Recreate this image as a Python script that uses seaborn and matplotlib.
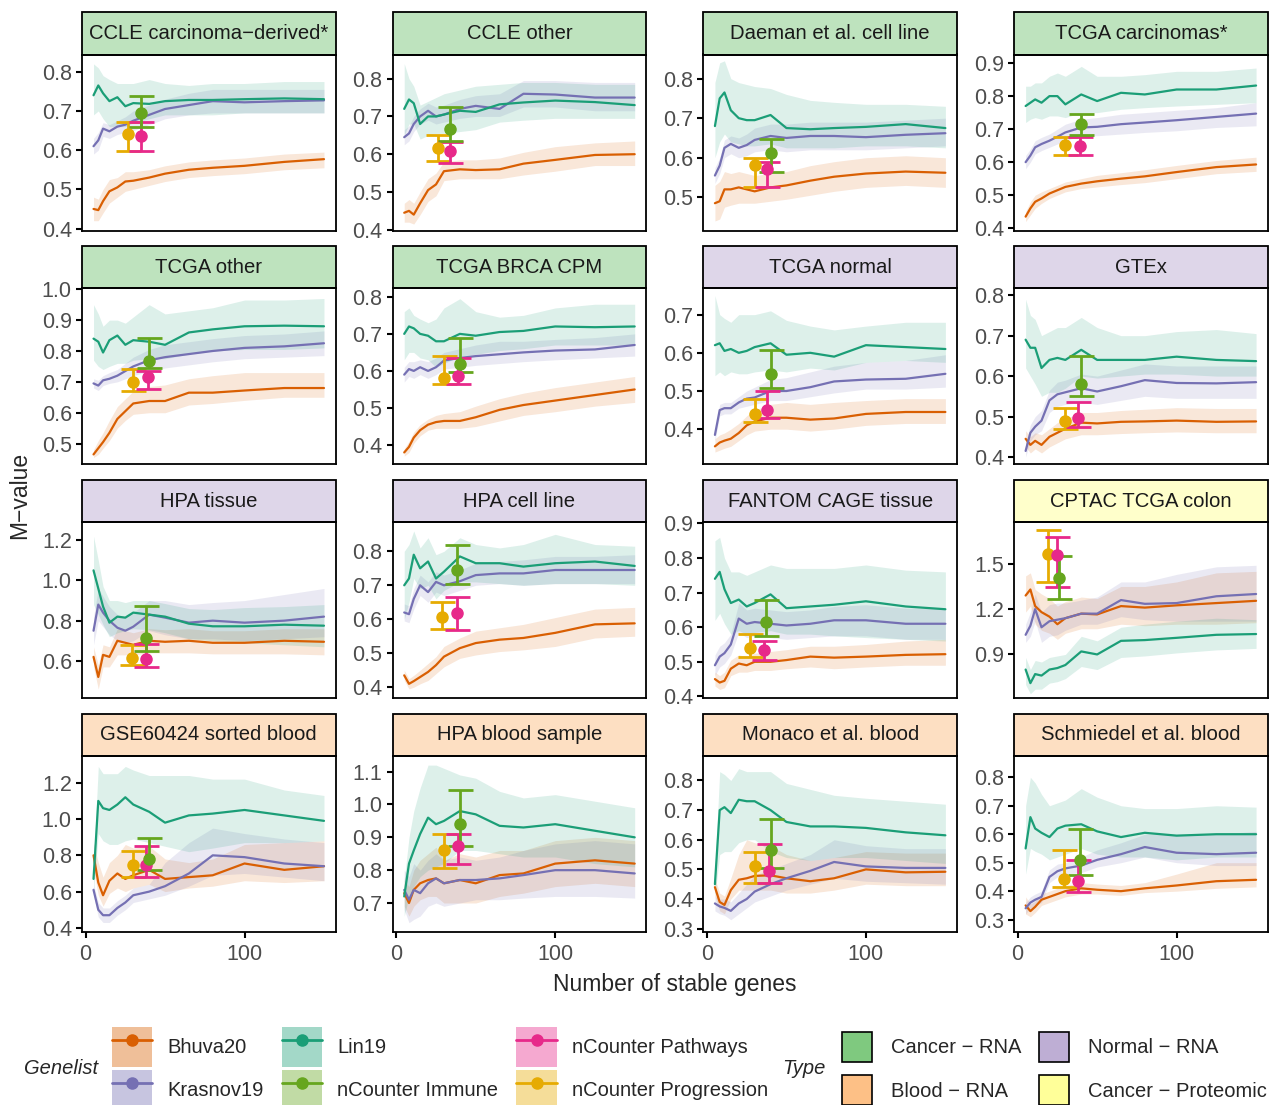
import numpy as np
import pandas as pd
import matplotlib
matplotlib.use("Agg")
import matplotlib.pyplot as plt
import seaborn as sns
from matplotlib.patches import Patch, Rectangle
from matplotlib.lines import Line2D
from matplotlib.legend_handler import HandlerTuple
from matplotlib.ticker import MultipleLocator, FormatStrFormatter

# ---- data ----
panels = ["CCLE carcinoma\u2212derived*", "CCLE other", "Daeman et al. cell line", "TCGA carcinomas*",
          "TCGA other", "TCGA BRCA CPM", "TCGA normal", "GTEx",
          "HPA tissue", "HPA cell line", "FANTOM CAGE tissue", "CPTAC TCGA colon",
          "GSE60424 sorted blood", "HPA blood sample", "Monaco et al. blood", "Schmiedel et al. blood"]
panel_type = ["Cancer \u2212 RNA"] * 6 + ["Normal \u2212 RNA"] * 5 + ["Cancer \u2212 Proteomic"] + ["Blood \u2212 RNA"] * 4

genes = [5, 8, 11, 15, 20, 25, 30, 40, 50, 65, 80, 100, 125, 150]

# Bhuva20 (one row per panel, same order as `panels`)
bhuva_mid = [
    [0.45, 0.447, 0.47, 0.495, 0.505, 0.52, 0.522, 0.53, 0.54, 0.55, 0.555, 0.56, 0.57, 0.577],
    [0.445, 0.45, 0.44, 0.47, 0.505, 0.52, 0.555, 0.56, 0.558, 0.56, 0.575, 0.585, 0.598, 0.60],
    [0.485, 0.49, 0.52, 0.52, 0.525, 0.52, 0.515, 0.525, 0.53, 0.542, 0.552, 0.56, 0.565, 0.562],
    [0.435, 0.46, 0.48, 0.49, 0.505, 0.515, 0.525, 0.535, 0.542, 0.55, 0.557, 0.57, 0.585, 0.593],
    [0.465, 0.485, 0.505, 0.535, 0.58, 0.605, 0.63, 0.638, 0.638, 0.665, 0.665, 0.672, 0.68, 0.68],
    [0.38, 0.395, 0.42, 0.44, 0.455, 0.462, 0.465, 0.465, 0.475, 0.495, 0.508, 0.52, 0.535, 0.55],
    [0.355, 0.365, 0.37, 0.375, 0.39, 0.41, 0.42, 0.43, 0.43, 0.425, 0.428, 0.44, 0.445, 0.445],
    [0.445, 0.43, 0.44, 0.43, 0.45, 0.46, 0.47, 0.485, 0.483, 0.487, 0.488, 0.49, 0.487, 0.488],
    [0.62, 0.52, 0.63, 0.62, 0.70, 0.69, 0.68, 0.70, 0.695, 0.70, 0.69, 0.69, 0.70, 0.695],
    [0.435, 0.41, 0.418, 0.43, 0.445, 0.465, 0.49, 0.515, 0.53, 0.54, 0.545, 0.56, 0.585, 0.588],
    [0.45, 0.44, 0.445, 0.48, 0.495, 0.49, 0.50, 0.50, 0.505, 0.515, 0.512, 0.515, 0.52, 0.522],
    [1.29, 1.33, 1.22, 1.18, 1.15, 1.10, 1.14, 1.17, 1.165, 1.22, 1.21, 1.225, 1.24, 1.255],
    [0.80, 0.65, 0.58, 0.66, 0.70, 0.67, 0.69, 0.72, 0.67, 0.68, 0.69, 0.755, 0.72, 0.74],
    [0.73, 0.70, 0.74, 0.76, 0.77, 0.775, 0.76, 0.77, 0.76, 0.785, 0.79, 0.82, 0.83, 0.82],
    [0.44, 0.39, 0.38, 0.43, 0.465, 0.47, 0.478, 0.48, 0.47, 0.46, 0.47, 0.50, 0.49, 0.492],
    [0.35, 0.33, 0.345, 0.37, 0.38, 0.39, 0.40, 0.41, 0.405, 0.40, 0.41, 0.42, 0.435, 0.44],
]
bhuva_lo = [
    [0.42, 0.42, 0.44, 0.465, 0.48, 0.495, 0.50, 0.51, 0.52, 0.53, 0.535, 0.54, 0.55, 0.555],
    [0.42, 0.42, 0.415, 0.44, 0.475, 0.49, 0.53, 0.535, 0.535, 0.535, 0.545, 0.555, 0.57, 0.57],
    [0.44, 0.445, 0.475, 0.48, 0.485, 0.485, 0.485, 0.49, 0.495, 0.505, 0.515, 0.525, 0.53, 0.525],
    [0.42, 0.44, 0.46, 0.475, 0.49, 0.50, 0.51, 0.52, 0.525, 0.532, 0.538, 0.55, 0.565, 0.572],
    [0.455, 0.465, 0.485, 0.51, 0.55, 0.575, 0.595, 0.60, 0.60, 0.625, 0.63, 0.64, 0.65, 0.65],
    [0.37, 0.38, 0.405, 0.425, 0.44, 0.445, 0.445, 0.445, 0.45, 0.465, 0.48, 0.49, 0.505, 0.515],
    [0.34, 0.345, 0.35, 0.355, 0.37, 0.385, 0.395, 0.40, 0.40, 0.395, 0.40, 0.41, 0.415, 0.415],
    [0.425, 0.41, 0.42, 0.41, 0.425, 0.435, 0.445, 0.455, 0.455, 0.458, 0.46, 0.462, 0.46, 0.46],
    [0.57, 0.46, 0.57, 0.57, 0.63, 0.63, 0.63, 0.64, 0.64, 0.64, 0.635, 0.635, 0.635, 0.63],
    [0.42, 0.395, 0.40, 0.41, 0.42, 0.44, 0.46, 0.485, 0.495, 0.505, 0.51, 0.52, 0.545, 0.55],
    [0.43, 0.42, 0.425, 0.46, 0.47, 0.47, 0.475, 0.475, 0.48, 0.485, 0.48, 0.485, 0.49, 0.49],
    [1.18, 1.22, 1.10, 1.06, 1.04, 1.00, 1.04, 1.07, 1.07, 1.10, 1.09, 1.10, 1.10, 1.11],
    [0.72, 0.58, 0.52, 0.59, 0.62, 0.60, 0.62, 0.64, 0.60, 0.62, 0.63, 0.66, 0.65, 0.66],
    [0.69, 0.66, 0.69, 0.71, 0.72, 0.72, 0.70, 0.70, 0.70, 0.72, 0.73, 0.75, 0.76, 0.75],
    [0.41, 0.36, 0.35, 0.40, 0.43, 0.43, 0.43, 0.43, 0.42, 0.42, 0.43, 0.45, 0.445, 0.445],
    [0.32, 0.31, 0.325, 0.35, 0.36, 0.37, 0.38, 0.39, 0.39, 0.385, 0.395, 0.40, 0.41, 0.415],
]
bhuva_hi = [
    [0.48, 0.475, 0.50, 0.525, 0.53, 0.545, 0.545, 0.55, 0.56, 0.57, 0.575, 0.58, 0.59, 0.595],
    [0.47, 0.48, 0.47, 0.50, 0.535, 0.55, 0.58, 0.585, 0.585, 0.59, 0.605, 0.62, 0.63, 0.635],
    [0.53, 0.54, 0.565, 0.56, 0.565, 0.56, 0.555, 0.56, 0.565, 0.58, 0.59, 0.60, 0.605, 0.60],
    [0.45, 0.48, 0.50, 0.51, 0.52, 0.53, 0.54, 0.55, 0.56, 0.568, 0.577, 0.59, 0.605, 0.615],
    [0.48, 0.51, 0.535, 0.575, 0.62, 0.645, 0.67, 0.685, 0.69, 0.71, 0.72, 0.73, 0.73, 0.73],
    [0.39, 0.41, 0.435, 0.455, 0.47, 0.48, 0.485, 0.49, 0.505, 0.525, 0.54, 0.555, 0.57, 0.585],
    [0.375, 0.385, 0.39, 0.40, 0.415, 0.435, 0.45, 0.465, 0.47, 0.465, 0.47, 0.475, 0.48, 0.48],
    [0.465, 0.45, 0.46, 0.455, 0.47, 0.485, 0.495, 0.51, 0.51, 0.515, 0.518, 0.522, 0.52, 0.52],
    [0.67, 0.58, 0.68, 0.67, 0.76, 0.75, 0.74, 0.76, 0.755, 0.76, 0.75, 0.75, 0.76, 0.76],
    [0.45, 0.425, 0.435, 0.45, 0.47, 0.49, 0.52, 0.545, 0.565, 0.575, 0.585, 0.605, 0.63, 0.635],
    [0.47, 0.46, 0.47, 0.505, 0.52, 0.515, 0.525, 0.53, 0.535, 0.545, 0.545, 0.55, 0.56, 0.565],
    [1.42, 1.44, 1.33, 1.30, 1.27, 1.22, 1.25, 1.28, 1.27, 1.35, 1.35, 1.38, 1.44, 1.45],
    [0.87, 0.76, 0.68, 0.76, 0.80, 0.86, 0.84, 0.85, 0.78, 0.76, 0.78, 0.86, 0.87, 0.88],
    [0.77, 0.75, 0.80, 0.83, 0.85, 0.87, 0.83, 0.85, 0.84, 0.86, 0.86, 0.89, 0.90, 0.89],
    [0.47, 0.42, 0.41, 0.47, 0.55, 0.60, 0.59, 0.58, 0.55, 0.53, 0.54, 0.56, 0.555, 0.555],
    [0.38, 0.355, 0.365, 0.39, 0.40, 0.41, 0.42, 0.43, 0.425, 0.42, 0.43, 0.46, 0.50, 0.50],
]

# Krasnov19
krasnov_mid = [
    [0.61, 0.625, 0.655, 0.648, 0.66, 0.665, 0.675, 0.69, 0.705, 0.715, 0.725, 0.722, 0.725, 0.727],
    [0.645, 0.655, 0.68, 0.70, 0.715, 0.70, 0.705, 0.72, 0.728, 0.72, 0.76, 0.758, 0.75, 0.75],
    [0.555, 0.58, 0.625, 0.635, 0.625, 0.632, 0.645, 0.655, 0.65, 0.655, 0.655, 0.652, 0.658, 0.662],
    [0.60, 0.62, 0.645, 0.655, 0.665, 0.677, 0.69, 0.705, 0.707, 0.715, 0.72, 0.727, 0.737, 0.747],
    [0.695, 0.688, 0.705, 0.71, 0.72, 0.735, 0.75, 0.77, 0.78, 0.79, 0.80, 0.81, 0.815, 0.825],
    [0.59, 0.605, 0.60, 0.61, 0.60, 0.61, 0.628, 0.635, 0.64, 0.645, 0.65, 0.655, 0.658, 0.67],
    [0.385, 0.45, 0.455, 0.455, 0.47, 0.48, 0.483, 0.50, 0.50, 0.51, 0.525, 0.53, 0.532, 0.545],
    [0.415, 0.46, 0.475, 0.49, 0.54, 0.555, 0.56, 0.57, 0.562, 0.575, 0.59, 0.583, 0.582, 0.585],
    [0.75, 0.88, 0.84, 0.80, 0.765, 0.75, 0.77, 0.83, 0.815, 0.79, 0.80, 0.79, 0.80, 0.82],
    [0.62, 0.615, 0.66, 0.70, 0.68, 0.71, 0.70, 0.712, 0.73, 0.735, 0.735, 0.745, 0.745, 0.745],
    [0.49, 0.515, 0.525, 0.55, 0.625, 0.61, 0.615, 0.61, 0.605, 0.61, 0.62, 0.62, 0.61, 0.61],
    [1.03, 1.09, 1.20, 1.08, 1.12, 1.13, 1.14, 1.17, 1.17, 1.26, 1.235, 1.24, 1.285, 1.30],
    [0.61, 0.50, 0.47, 0.47, 0.51, 0.54, 0.58, 0.60, 0.63, 0.70, 0.80, 0.79, 0.755, 0.74],
    [0.74, 0.71, 0.74, 0.73, 0.76, 0.775, 0.76, 0.77, 0.77, 0.775, 0.785, 0.80, 0.80, 0.79],
    [0.385, 0.375, 0.37, 0.36, 0.385, 0.40, 0.425, 0.45, 0.47, 0.495, 0.525, 0.51, 0.505, 0.505],
    [0.34, 0.36, 0.37, 0.38, 0.45, 0.47, 0.48, 0.49, 0.51, 0.53, 0.555, 0.535, 0.53, 0.535],
]
krasnov_lo = [
    [0.59, 0.60, 0.635, 0.63, 0.64, 0.645, 0.65, 0.665, 0.68, 0.69, 0.695, 0.695, 0.695, 0.695],
    [0.625, 0.635, 0.66, 0.68, 0.69, 0.68, 0.685, 0.695, 0.70, 0.70, 0.725, 0.725, 0.715, 0.715],
    [0.535, 0.56, 0.60, 0.61, 0.60, 0.605, 0.615, 0.62, 0.615, 0.62, 0.62, 0.62, 0.625, 0.63],
    [0.58, 0.60, 0.625, 0.635, 0.645, 0.655, 0.665, 0.68, 0.68, 0.685, 0.69, 0.695, 0.705, 0.71],
    [0.68, 0.672, 0.688, 0.695, 0.70, 0.71, 0.72, 0.735, 0.745, 0.755, 0.765, 0.775, 0.78, 0.785],
    [0.57, 0.585, 0.58, 0.59, 0.58, 0.59, 0.605, 0.61, 0.615, 0.62, 0.625, 0.63, 0.635, 0.64],
    [0.37, 0.435, 0.44, 0.44, 0.455, 0.46, 0.465, 0.475, 0.475, 0.485, 0.495, 0.505, 0.505, 0.51],
    [0.40, 0.44, 0.455, 0.465, 0.51, 0.525, 0.53, 0.535, 0.53, 0.54, 0.55, 0.545, 0.545, 0.545],
    [0.68, 0.80, 0.77, 0.73, 0.70, 0.69, 0.70, 0.75, 0.73, 0.71, 0.71, 0.70, 0.71, 0.72],
    [0.595, 0.59, 0.63, 0.67, 0.65, 0.68, 0.67, 0.685, 0.70, 0.705, 0.70, 0.705, 0.705, 0.705],
    [0.46, 0.485, 0.495, 0.52, 0.585, 0.57, 0.575, 0.57, 0.565, 0.57, 0.575, 0.575, 0.565, 0.565],
    [0.98, 1.02, 1.12, 0.98, 1.02, 1.03, 1.06, 1.10, 1.10, 1.15, 1.13, 1.12, 1.12, 1.12],
    [0.58, 0.46, 0.43, 0.43, 0.47, 0.50, 0.54, 0.56, 0.58, 0.63, 0.69, 0.70, 0.68, 0.66],
    [0.68, 0.64, 0.65, 0.66, 0.69, 0.70, 0.69, 0.70, 0.71, 0.71, 0.715, 0.72, 0.72, 0.715],
    [0.36, 0.35, 0.345, 0.33, 0.35, 0.37, 0.39, 0.41, 0.43, 0.45, 0.47, 0.46, 0.455, 0.45],
    [0.32, 0.34, 0.35, 0.36, 0.43, 0.45, 0.46, 0.465, 0.485, 0.50, 0.52, 0.50, 0.49, 0.49],
]
krasnov_hi = [
    [0.63, 0.645, 0.67, 0.665, 0.675, 0.685, 0.70, 0.715, 0.73, 0.745, 0.755, 0.755, 0.755, 0.755],
    [0.665, 0.675, 0.70, 0.72, 0.735, 0.725, 0.73, 0.745, 0.755, 0.76, 0.795, 0.795, 0.79, 0.79],
    [0.575, 0.60, 0.645, 0.655, 0.65, 0.66, 0.675, 0.685, 0.685, 0.69, 0.69, 0.69, 0.695, 0.70],
    [0.62, 0.64, 0.665, 0.675, 0.685, 0.70, 0.715, 0.73, 0.735, 0.745, 0.75, 0.757, 0.765, 0.78],
    [0.71, 0.705, 0.72, 0.73, 0.74, 0.76, 0.78, 0.805, 0.82, 0.83, 0.84, 0.85, 0.855, 0.865],
    [0.61, 0.625, 0.625, 0.63, 0.625, 0.635, 0.65, 0.66, 0.67, 0.68, 0.68, 0.685, 0.69, 0.70],
    [0.40, 0.465, 0.47, 0.47, 0.485, 0.50, 0.51, 0.53, 0.535, 0.55, 0.565, 0.575, 0.58, 0.595],
    [0.435, 0.48, 0.50, 0.515, 0.565, 0.585, 0.59, 0.605, 0.60, 0.615, 0.63, 0.625, 0.625, 0.625],
    [0.82, 0.96, 0.92, 0.87, 0.83, 0.82, 0.84, 0.90, 0.90, 0.88, 0.89, 0.90, 0.93, 0.96],
    [0.645, 0.64, 0.69, 0.73, 0.71, 0.74, 0.73, 0.745, 0.765, 0.77, 0.775, 0.785, 0.785, 0.79],
    [0.52, 0.545, 0.555, 0.58, 0.67, 0.65, 0.655, 0.65, 0.645, 0.65, 0.66, 0.665, 0.655, 0.655],
    [1.10, 1.18, 1.30, 1.18, 1.23, 1.24, 1.24, 1.26, 1.28, 1.38, 1.38, 1.43, 1.48, 1.49],
    [0.64, 0.54, 0.51, 0.51, 0.55, 0.58, 0.62, 0.64, 0.76, 0.87, 0.95, 0.92, 0.89, 0.87],
    [0.80, 0.78, 0.82, 0.80, 0.83, 0.85, 0.83, 0.84, 0.83, 0.84, 0.86, 0.88, 0.89, 0.88],
    [0.41, 0.40, 0.40, 0.39, 0.42, 0.45, 0.48, 0.50, 0.52, 0.55, 0.60, 0.58, 0.57, 0.57],
    [0.36, 0.38, 0.39, 0.40, 0.475, 0.495, 0.50, 0.52, 0.545, 0.57, 0.60, 0.60, 0.60, 0.61],
]

# Lin19
lin_mid = [
    [0.74, 0.765, 0.745, 0.725, 0.735, 0.712, 0.72, 0.718, 0.725, 0.728, 0.728, 0.73, 0.732, 0.73],
    [0.72, 0.745, 0.735, 0.68, 0.70, 0.70, 0.705, 0.715, 0.712, 0.732, 0.737, 0.742, 0.738, 0.73],
    [0.68, 0.75, 0.765, 0.72, 0.70, 0.695, 0.695, 0.708, 0.675, 0.672, 0.675, 0.678, 0.685, 0.675],
    [0.77, 0.78, 0.79, 0.78, 0.80, 0.80, 0.775, 0.805, 0.785, 0.81, 0.805, 0.82, 0.82, 0.832],
    [0.84, 0.83, 0.795, 0.835, 0.85, 0.82, 0.835, 0.83, 0.82, 0.86, 0.87, 0.88, 0.882, 0.88],
    [0.70, 0.72, 0.715, 0.70, 0.695, 0.68, 0.68, 0.70, 0.695, 0.705, 0.708, 0.72, 0.718, 0.72],
    [0.62, 0.625, 0.605, 0.61, 0.60, 0.605, 0.615, 0.625, 0.595, 0.60, 0.59, 0.62, 0.615, 0.61],
    [0.69, 0.67, 0.67, 0.62, 0.64, 0.645, 0.64, 0.665, 0.64, 0.64, 0.64, 0.648, 0.64, 0.637],
    [1.05, 0.96, 0.87, 0.79, 0.82, 0.815, 0.84, 0.83, 0.82, 0.785, 0.772, 0.772, 0.78, 0.775],
    [0.70, 0.72, 0.79, 0.75, 0.77, 0.72, 0.74, 0.785, 0.765, 0.765, 0.755, 0.765, 0.77, 0.757],
    [0.74, 0.76, 0.71, 0.67, 0.68, 0.66, 0.67, 0.695, 0.655, 0.66, 0.665, 0.675, 0.66, 0.652],
    [0.80, 0.71, 0.77, 0.76, 0.80, 0.81, 0.83, 0.92, 0.90, 0.99, 0.995, 1.01, 1.03, 1.035],
    [0.67, 1.10, 1.06, 1.05, 1.08, 1.12, 1.08, 1.04, 0.98, 1.02, 1.03, 1.05, 1.02, 0.99],
    [0.72, 0.82, 0.86, 0.91, 0.96, 0.94, 0.95, 0.98, 0.97, 0.935, 0.93, 0.94, 0.92, 0.90],
    [0.45, 0.70, 0.71, 0.69, 0.735, 0.73, 0.73, 0.70, 0.66, 0.645, 0.645, 0.64, 0.625, 0.615],
    [0.55, 0.66, 0.62, 0.605, 0.59, 0.62, 0.63, 0.635, 0.61, 0.59, 0.605, 0.595, 0.60, 0.60],
]
lin_lo = [
    [0.69, 0.70, 0.68, 0.66, 0.66, 0.66, 0.67, 0.68, 0.69, 0.69, 0.69, 0.695, 0.695, 0.695],
    [0.65, 0.68, 0.68, 0.64, 0.65, 0.655, 0.655, 0.66, 0.665, 0.685, 0.69, 0.695, 0.695, 0.695],
    [0.60, 0.64, 0.66, 0.64, 0.635, 0.63, 0.63, 0.635, 0.625, 0.625, 0.625, 0.63, 0.63, 0.625],
    [0.72, 0.73, 0.735, 0.73, 0.74, 0.74, 0.735, 0.75, 0.75, 0.76, 0.765, 0.77, 0.775, 0.78],
    [0.77, 0.75, 0.74, 0.75, 0.76, 0.76, 0.77, 0.775, 0.775, 0.79, 0.80, 0.805, 0.805, 0.81],
    [0.63, 0.65, 0.65, 0.635, 0.63, 0.61, 0.62, 0.64, 0.645, 0.655, 0.66, 0.67, 0.67, 0.67],
    [0.54, 0.55, 0.54, 0.55, 0.545, 0.545, 0.55, 0.555, 0.55, 0.56, 0.555, 0.575, 0.58, 0.575],
    [0.62, 0.60, 0.58, 0.55, 0.56, 0.56, 0.57, 0.60, 0.595, 0.60, 0.605, 0.605, 0.60, 0.60],
    [0.88, 0.83, 0.78, 0.72, 0.74, 0.75, 0.76, 0.755, 0.74, 0.71, 0.70, 0.69, 0.68, 0.67],
    [0.60, 0.65, 0.72, 0.69, 0.70, 0.66, 0.685, 0.71, 0.71, 0.705, 0.70, 0.705, 0.705, 0.70],
    [0.62, 0.64, 0.61, 0.58, 0.59, 0.58, 0.585, 0.59, 0.58, 0.58, 0.575, 0.57, 0.565, 0.56],
    [0.70, 0.64, 0.67, 0.67, 0.71, 0.72, 0.74, 0.82, 0.80, 0.88, 0.89, 0.91, 0.93, 0.94],
    [0.60, 0.92, 0.88, 0.86, 0.86, 0.88, 0.89, 0.87, 0.85, 0.82, 0.84, 0.87, 0.87, 0.88],
    [0.66, 0.72, 0.75, 0.78, 0.80, 0.81, 0.82, 0.86, 0.86, 0.85, 0.84, 0.84, 0.82, 0.81],
    [0.41, 0.55, 0.56, 0.56, 0.59, 0.60, 0.60, 0.56, 0.54, 0.53, 0.54, 0.54, 0.53, 0.52],
    [0.46, 0.55, 0.54, 0.53, 0.51, 0.52, 0.53, 0.55, 0.53, 0.52, 0.52, 0.51, 0.52, 0.52],
]
lin_hi = [
    [0.82, 0.81, 0.79, 0.78, 0.77, 0.77, 0.77, 0.78, 0.77, 0.765, 0.77, 0.77, 0.775, 0.775],
    [0.84, 0.80, 0.78, 0.73, 0.74, 0.75, 0.76, 0.77, 0.78, 0.785, 0.79, 0.79, 0.785, 0.785],
    [0.79, 0.84, 0.845, 0.80, 0.79, 0.785, 0.78, 0.775, 0.76, 0.745, 0.74, 0.735, 0.735, 0.73],
    [0.83, 0.83, 0.84, 0.84, 0.86, 0.87, 0.86, 0.89, 0.86, 0.86, 0.865, 0.875, 0.875, 0.885],
    [0.95, 0.92, 0.88, 0.90, 0.90, 0.89, 0.91, 0.95, 0.92, 0.93, 0.94, 0.965, 0.965, 0.97],
    [0.76, 0.77, 0.75, 0.74, 0.73, 0.74, 0.77, 0.795, 0.76, 0.745, 0.75, 0.77, 0.78, 0.78],
    [0.75, 0.70, 0.69, 0.68, 0.70, 0.70, 0.70, 0.71, 0.685, 0.67, 0.66, 0.67, 0.68, 0.68],
    [0.79, 0.75, 0.74, 0.70, 0.71, 0.72, 0.72, 0.745, 0.72, 0.70, 0.70, 0.71, 0.715, 0.705],
    [1.22, 1.10, 0.97, 0.90, 0.90, 0.89, 0.90, 0.90, 0.885, 0.86, 0.855, 0.865, 0.87, 0.88],
    [0.80, 0.82, 0.86, 0.81, 0.84, 0.79, 0.80, 0.84, 0.82, 0.81, 0.82, 0.85, 0.82, 0.815],
    [0.85, 0.86, 0.80, 0.76, 0.76, 0.75, 0.76, 0.78, 0.77, 0.77, 0.77, 0.78, 0.765, 0.76],
    [0.88, 0.80, 0.86, 0.85, 0.88, 0.89, 0.90, 1.02, 0.99, 1.08, 1.10, 1.12, 1.14, 1.13],
    [0.75, 1.29, 1.25, 1.25, 1.25, 1.29, 1.27, 1.24, 1.24, 1.24, 1.22, 1.22, 1.16, 1.13],
    [0.77, 0.90, 0.98, 1.05, 1.12, 1.12, 1.11, 1.09, 1.08, 1.04, 1.02, 1.03, 1.01, 0.99],
    [0.50, 0.83, 0.82, 0.80, 0.84, 0.83, 0.83, 0.83, 0.79, 0.77, 0.75, 0.74, 0.73, 0.72],
    [0.70, 0.80, 0.78, 0.74, 0.70, 0.71, 0.72, 0.76, 0.73, 0.70, 0.69, 0.69, 0.70, 0.695],
]

# nCounter gene sets: one value per panel
prog_x = [27, 26, 30, 30, 30, 30, 30, 30, 29, 29, 27, 19, 30, 30, 30, 29]
prog_m = [0.640, 0.617, 0.582, 0.652, 0.700, 0.580, 0.440, 0.490, 0.615, 0.608, 0.540, 1.565, 0.745, 0.860, 0.510, 0.443]
prog_lo = [0.597, 0.583, 0.525, 0.622, 0.672, 0.565, 0.418, 0.470, 0.580, 0.570, 0.515, 1.380, 0.680, 0.808, 0.455, 0.413]
prog_hi = [0.672, 0.650, 0.600, 0.677, 0.742, 0.640, 0.480, 0.522, 0.680, 0.652, 0.580, 1.725, 0.825, 0.910, 0.560, 0.545]
path_x = [35, 34, 38, 39, 39, 39, 38, 38, 38, 38, 36, 25, 38, 39, 39, 38]
path_m = [0.636, 0.608, 0.572, 0.650, 0.715, 0.585, 0.450, 0.497, 0.610, 0.617, 0.535, 1.555, 0.745, 0.873, 0.495, 0.435]
path_lo = [0.597, 0.578, 0.527, 0.622, 0.678, 0.565, 0.430, 0.475, 0.570, 0.567, 0.505, 1.345, 0.680, 0.820, 0.455, 0.398]
path_hi = [0.672, 0.632, 0.590, 0.675, 0.735, 0.635, 0.500, 0.535, 0.685, 0.665, 0.560, 1.680, 0.850, 0.910, 0.585, 0.510]
imm_x = [35, 34, 40, 40, 40, 40, 40, 40, 38, 38, 37, 26, 40, 40, 40, 39]
imm_m = [0.695, 0.668, 0.612, 0.715, 0.767, 0.620, 0.545, 0.580, 0.712, 0.745, 0.615, 1.405, 0.780, 0.940, 0.565, 0.510]
imm_lo = [0.660, 0.635, 0.563, 0.683, 0.745, 0.597, 0.508, 0.550, 0.650, 0.703, 0.575, 1.265, 0.720, 0.875, 0.505, 0.458]
imm_hi = [0.737, 0.725, 0.647, 0.745, 0.843, 0.690, 0.608, 0.650, 0.875, 0.820, 0.680, 1.550, 0.895, 1.045, 0.670, 0.617]

# y-range and tick step of each facet
y_lim = [(0.395, 0.844), (0.398, 0.864), (0.416, 0.861), (0.393, 0.926),
         (0.433, 1.003), (0.348, 0.823), (0.308, 0.769), (0.382, 0.817),
         (0.415, 1.29), (0.368, 0.886), (0.395, 0.904), (0.611, 1.776),
         (0.378, 1.348), (0.612, 1.148), (0.289, 0.883), (0.257, 0.875)]
y_step = [0.1, 0.1, 0.1, 0.1, 0.1, 0.1, 0.1, 0.1, 0.2, 0.1, 0.1, 0.3, 0.2, 0.1, 0.1, 0.1]

# ---- long tables ----
line_rows = []
for i, p in enumerate(panels):
    for gl, mid, lo, hi in [("Bhuva20", bhuva_mid, bhuva_lo, bhuva_hi),
                            ("Krasnov19", krasnov_mid, krasnov_lo, krasnov_hi),
                            ("Lin19", lin_mid, lin_lo, lin_hi)]:
        for g, m, l, h in zip(genes, mid[i], lo[i], hi[i]):
            line_rows.append(dict(panel=p, genelist=gl, genes=g, mval=m, lo=l, hi=h))
lines = pd.DataFrame(line_rows)

pt_rows = []
for i, p in enumerate(panels):
    for gl, xs, ms, los, his in [("nCounter Progression", prog_x, prog_m, prog_lo, prog_hi),
                                 ("nCounter Pathways", path_x, path_m, path_lo, path_hi),
                                 ("nCounter Immune", imm_x, imm_m, imm_lo, imm_hi)]:
        pt_rows.append(dict(panel=p, genelist=gl, genes=xs[i], mval=ms[i], lo=los[i], hi=his[i]))
points = pd.DataFrame(pt_rows)

pal = {"Bhuva20": "#D95F02", "Krasnov19": "#7570B3", "Lin19": "#1B9E77",
       "nCounter Immune": "#66A61E", "nCounter Pathways": "#E7298A", "nCounter Progression": "#E6AB02"}
type_col = {"Cancer \u2212 RNA": "#7FC97F", "Blood \u2212 RNA": "#FDC086",
            "Normal \u2212 RNA": "#BEAED4", "Cancer \u2212 Proteomic": "#FFFF99"}

# ---- figure ----
sns.set_style("ticks")
plt.rcParams["font.family"] = ["Liberation Sans", "DejaVu Sans"]
W, H = 1270, 1105
fig = plt.figure(figsize=(W / 100, H / 100), dpi=100)

pw, ph, strip_h = 253.5, 176, 42
for i, p in enumerate(panels):
    r, c = divmod(i, 4)
    left = 82 + c * 310.7
    bottom_px = 230.5 + r * 233.8
    ax = fig.add_axes([left / W, 1 - bottom_px / H, pw / W, ph / H])
    sub = lines[lines.panel == p]
    for gl, d in sub.groupby("genelist"):
        ax.fill_between(d.genes, d.lo, d.hi, color=pal[gl], alpha=0.15, lw=0)
    sns.lineplot(data=sub, x="genes", y="mval", hue="genelist", palette=pal,
                 estimator=None, lw=1.6, legend=False, ax=ax)
    for _, row in points[points.panel == p].iterrows():
        ax.errorbar(row.genes, row.mval, yerr=[[row.mval - row.lo], [row.hi - row.mval]],
                    fmt="o", color=pal[row.genelist], ms=8, elinewidth=2, capsize=9, capthick=2)
    ax.set_xlim(-2.25, 157.25)
    ax.set_ylim(*y_lim[i])
    ax.yaxis.set_major_locator(MultipleLocator(y_step[i]))
    ax.yaxis.set_major_formatter(FormatStrFormatter("%.1f"))
    ax.set_xticks([0, 100])
    ax.set_xlabel("")
    ax.set_ylabel("")
    ax.tick_params(length=4.3, width=1.5, color="black", labelsize=15.5, labelcolor="#4D4D4D", pad=3)
    ax.tick_params(axis="x", pad=4.5)
    if r < 3:
        ax.tick_params(axis="x", bottom=False, labelbottom=False)
    for s in ax.spines.values():
        s.set_visible(True)
        s.set_color("black")
        s.set_linewidth(1.3)
    ax.add_patch(Rectangle((0, 1), 1, strip_h / ph, transform=ax.transAxes, clip_on=False,
                           facecolor=type_col[panel_type[i]], alpha=0.5, lw=0))
    ax.add_patch(Rectangle((0, 1), 1, strip_h / ph, transform=ax.transAxes, clip_on=False,
                           facecolor="none", edgecolor="black", lw=1.3))
    ax.text(0.5, 1 + strip_h / ph / 2, p, transform=ax.transAxes, ha="center", va="center",
            fontsize=14.6, color="#1A1A1A")

fig.text(675 / W, 1 - 984 / H, "Number of stable genes", ha="center", va="center", fontsize=16.5)
fig.text(20 / W, 1 - 495 / H, "M\u2212value", ha="center", va="center", rotation=90, fontsize=16.5)

# ---- legends ----
gl_order = ["Bhuva20", "Krasnov19", "Lin19", "nCounter Immune", "nCounter Pathways", "nCounter Progression"]
gl_handles = [(Patch(facecolor=pal[g], alpha=0.4, lw=0),
               Line2D([], [], color=pal[g], lw=2, marker="o", ms=8)) for g in gl_order]
fig.legend(gl_handles, gl_order, loc="upper left", bbox_to_anchor=(112 / W, 1 - 1027 / H),
           ncol=3, frameon=False, fontsize=14.5, borderpad=0, borderaxespad=0,
           handlelength=2.0, handleheight=2.68, handletextpad=0.75, labelspacing=0.15,
           columnspacing=0.9, numpoints=1, handler_map={tuple: HandlerTuple(ndivide=1)})
fig.text(24 / W, 1 - 1069 / H, "Genelist", fontsize=14.5, style="italic", va="center", ha="left")

ty_order = ["Cancer \u2212 RNA", "Blood \u2212 RNA", "Normal \u2212 RNA", "Cancer \u2212 Proteomic"]
ty_handles = [Patch(facecolor=type_col[t], edgecolor="black", lw=1.2) for t in ty_order]
fig.legend(ty_handles, ty_order, loc="upper left", bbox_to_anchor=(842 / W, 1 - 1032 / H),
           ncol=2, frameon=False, fontsize=14.5, borderpad=0, borderaxespad=0,
           handlelength=1.49, handleheight=1.915, handletextpad=0.95, labelspacing=0.65,
           columnspacing=0.85)
fig.text(782 / W, 1 - 1069 / H, "Type", fontsize=14.5, style="italic", va="center", ha="left")

fig.savefig("out.png", dpi=100)
